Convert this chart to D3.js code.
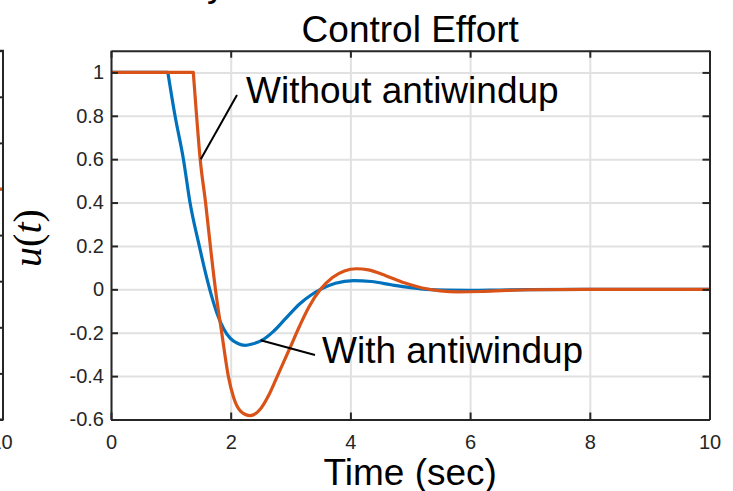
<!DOCTYPE html>
<html lang="en">
<head>
	<meta charset="UTF-8">
	<title>Control Effort</title>
	<style type="text/css">
		body{
			margin: 0;
			background: white;
		}
		svg text {
			font-family: "Liberation Sans", Arial, sans-serif;
			fill: #000;
		}
		.axis text {
			font-size: 20px;
			font-family: "Liberation Sans", Arial, sans-serif;
			fill: #262626;
		}
		.grid line {
			stroke: #e1e1e1;
			stroke-width: 2;
		}
		.grid path { display: none; }
		.frame line, .frame path {
			stroke: #262626;
			stroke-width: 2;
			fill: none;
		}
		.series {
			fill: none;
			stroke-width: 3.2;
			stroke-linejoin: round;
		}
		.big {
			font-size: 37px;
		}
	</style>
	<script src="https://cdn.jsdelivr.net/npm/d3@7"></script>
</head>
<body>
<script type="text/javascript">
	// Data
	var xTicks = [0, 2, 4, 6, 8, 10];
	var yTicks = [-0.6, -0.4, -0.2, 0, 0.2, 0.4, 0.6, 0.8, 1];

	var timeWith = [0, 0.95, 1.07, 1.21, 1.32, 1.475, 1.58, 1.68, 1.77, 1.88, 1.99, 2.12, 2.24, 2.36, 2.52, 2.71, 2.9, 3.16, 3.35, 3.5, 3.75, 4.05, 4.35, 4.7, 5.0, 5.27, 5.6, 6.0, 6.5, 7.0, 8, 10];
	var uWith = [1, 1, 0.8, 0.6, 0.4, 0.2, 0.075, -0.03, -0.11, -0.18, -0.225, -0.25, -0.258, -0.252, -0.235, -0.195, -0.14, -0.065, -0.025, 0, 0.028, 0.04, 0.036, 0.02, 0.008, 0, -0.004, -0.005, -0.003, -0.001, 0, 0];

	var timeWithout = [0, 1.375, 1.43, 1.49, 1.58, 1.66, 1.745, 1.85, 1.96, 2.05, 2.17, 2.33, 2.5, 2.65, 2.78, 2.99, 3.15, 3.3, 3.5, 3.7, 3.9, 4.1, 4.3, 4.6, 4.9, 5.2, 5.5, 5.8, 6.2, 6.6, 7.0, 8, 10];
	var uWithout = [1, 1, 0.8, 0.6, 0.4, 0.2, 0, -0.2, -0.4, -0.5, -0.563, -0.582, -0.55, -0.48, -0.4, -0.27, -0.17, -0.085, 0, 0.055, 0.085, 0.095, 0.09, 0.062, 0.03, 0.006, -0.007, -0.012, -0.01, -0.005, -0.002, 0, 0];

	// index where the saturated (flat) part ends
	var cornerWith = 1;
	var cornerWithout = 1;

	// neighbouring panel, only its right edge is in view
	var leftTicks = [0, 0.2, 0.4, 0.6, 0.8, 1, 1.2, 1.4, 1.6];
	var leftTime = [9, 10];
	var leftOutput = [1, 1];

	var fullWidth = 733;
	var fullHeight = 491;
	var plot = {left: 111, right: 709.5, top: 50.7, bottom: 419.5};

	var svg = d3.select('body')
		.append('svg')
		.attr('width', fullWidth)
		.attr('height', fullHeight);

	// Scales
	var xScale = d3.scaleLinear().domain([0, 10]).range([plot.left, plot.right]);
	var yScale = d3.scaleLinear().domain([-0.6, 1.1]).range([plot.bottom, plot.top]);

	var leftX = d3.scaleLinear().domain([0, 10]).range([-595, 3]);
	var leftY = d3.scaleLinear().domain([0, 1.6]).range([plot.bottom, plot.top]);

	var fmt = function(d){ return String(+d.toFixed(1)); };
	var tickLen = 7;
	var w = plot.right - plot.left;
	var h = plot.bottom - plot.top;

	// --- neighbouring panel edge ---
	svg.append('g')
		.attr('class', 'frame')
		.attr('transform', 'translate(' + leftX(10) + ',0)')
		.call(d3.axisLeft(leftY).tickValues(leftTicks).tickSize(tickLen).tickFormat(''))
		.call(function(g){ g.select('.domain').remove(); });

	svg.append('path')
		.attr('class', 'series')
		.attr('stroke', '#D95319')
		.attr('d', d3.line()
			.x(function(d){ return leftX(d[0]); })
			.y(function(d){ return leftY(d[1]); })(d3.zip(leftTime, leftOutput)));

	svg.append('g')
		.attr('class', 'frame')
		.append('path')
		.attr('d', 'M' + leftX(0) + ',' + plot.top + 'H' + leftX(10) + 'V' + plot.bottom + 'H' + leftX(0));

	svg.append('g')
		.attr('class', 'axis')
		.attr('transform', 'translate(-2,' + plot.bottom + ')')
		.call(d3.axisBottom(leftX).tickValues(xTicks).tickSize(0).tickPadding(15).tickFormat(d3.format('d')))
		.call(function(g){ g.select('.domain').remove(); });

	svg.append('text')
		.attr('class', 'big')
		.attr('x', 207)
		.attr('y', -4)
		.text('y');

	// --- gridlines ---
	svg.append('g')
		.attr('class', 'grid')
		.attr('transform', 'translate(0,' + plot.bottom + ')')
		.call(d3.axisBottom(xScale).tickValues(xTicks).tickSize(-h).tickFormat(''));

	svg.append('g')
		.attr('class', 'grid')
		.attr('transform', 'translate(' + plot.left + ',0)')
		.call(d3.axisLeft(yScale).tickValues(yTicks).tickSize(-w).tickFormat(''));

	// --- series: flat saturated part straight, the rest smooth ---
	var flat = d3.line()
		.x(function(d){ return xScale(d[0]); })
		.y(function(d){ return yScale(d[1]); });

	var smooth = d3.line()
		.curve(d3.curveMonotoneX)
		.x(function(d){ return xScale(d[0]); })
		.y(function(d){ return yScale(d[1]); });

	function drawSeries(t, u, corner, color) {
		var pts = d3.zip(t, u);
		svg.append('path')
			.attr('class', 'series')
			.attr('stroke', color)
			.attr('d', flat(pts.slice(0, corner + 1)) + smooth(pts.slice(corner)).replace(/^M/, 'L'));
	}

	drawSeries(timeWith, uWith, cornerWith, '#0072BD');
	drawSeries(timeWithout, uWithout, cornerWithout, '#D95319');

	// --- axes box with inward ticks ---
	svg.append('g')
		.attr('class', 'axis frame')
		.attr('transform', 'translate(0,' + plot.bottom + ')')
		.call(d3.axisBottom(xScale).tickValues(xTicks).tickSizeInner(-tickLen).tickSizeOuter(0).tickPadding(15).tickFormat(d3.format('d')));

	svg.append('g')
		.attr('class', 'axis frame')
		.attr('transform', 'translate(' + plot.left + ',0)')
		.call(d3.axisLeft(yScale).tickValues(yTicks).tickSizeInner(-tickLen).tickSizeOuter(0).tickPadding(7).tickFormat(fmt));

	svg.append('g')
		.attr('class', 'frame')
		.attr('transform', 'translate(0,' + plot.top + ')')
		.call(d3.axisTop(xScale).tickValues(xTicks).tickSizeInner(-tickLen).tickSizeOuter(0).tickFormat(''));

	svg.append('g')
		.attr('class', 'frame')
		.attr('transform', 'translate(' + plot.right + ',0)')
		.call(d3.axisRight(yScale).tickValues(yTicks).tickSizeInner(-tickLen).tickSizeOuter(0).tickFormat(''));

	// --- annotations ---
	svg.append('line')
		.attr('x1', xScale(1.5)).attr('y1', yScale(0.6))
		.attr('x2', 237).attr('y2', 95)
		.attr('stroke', '#000').attr('stroke-width', 2);

	svg.append('text')
		.attr('class', 'big')
		.attr('x', 246)
		.attr('y', 103)
		.text('Without antiwindup');

	svg.append('line')
		.attr('x1', xScale(2.5)).attr('y1', yScale(-0.235))
		.attr('x2', 315).attr('y2', 355)
		.attr('stroke', '#000').attr('stroke-width', 2);

	svg.append('text')
		.attr('class', 'big')
		.attr('x', 322)
		.attr('y', 363)
		.text('With antiwindup');

	// --- titles and labels ---
	svg.append('text')
		.attr('class', 'big')
		.attr('x', (plot.left + plot.right) / 2)
		.attr('y', 42)
		.attr('text-anchor', 'middle')
		.text('Control Effort');

	svg.append('text')
		.attr('class', 'big')
		.attr('x', (plot.left + plot.right) / 2)
		.attr('y', 485)
		.attr('text-anchor', 'middle')
		.text('Time (sec)');

	var ylab = svg.append('text')
		.attr('transform', 'translate(41,238) rotate(-90)')
		.attr('text-anchor', 'middle')
		.style('font-family', '"Liberation Serif", "DejaVu Serif", serif')
		.style('font-size', '40px');
	ylab.append('tspan').style('font-style', 'italic').text('u');
	ylab.append('tspan').text('(');
	ylab.append('tspan').style('font-style', 'italic').text('t');
	ylab.append('tspan').text(')');
</script>
</body>
</html>
